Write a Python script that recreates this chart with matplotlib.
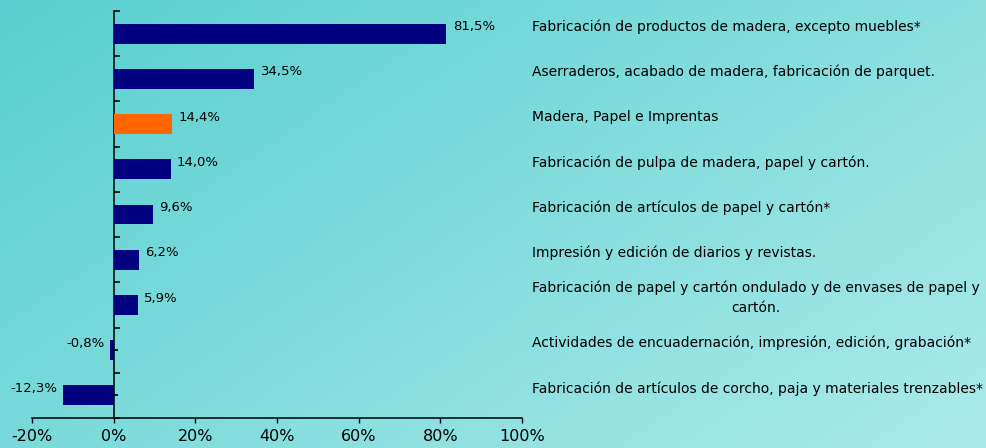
import numpy as np
import matplotlib.pyplot as plt
import matplotlib.transforms as mtransforms
from matplotlib.ticker import FuncFormatter

categories = [
    "Fabricación de productos de madera, excepto muebles*",
    "Aserraderos, acabado de madera, fabricación de parquet.",
    "Madera, Papel e Imprentas",
    "Fabricación de pulpa de madera, papel y cartón.",
    "Fabricación de artículos de papel y cartón*",
    "Impresión y edición de diarios y revistas.",
    "Fabricación de papel y cartón ondulado y de envases de papel y\ncartón.",
    "Actividades de encuadernación, impresión, edición, grabación*",
    "Fabricación de artículos de corcho, paja y materiales trenzables*",
]
values = [81.5, 34.5, 14.4, 14.0, 9.6, 6.2, 5.9, -0.8, -12.3]
highlight = 2  # the sector total

navy = "#000080"
orange = "#FF6600"

fig = plt.figure(figsize=(9.87, 4.48), dpi=100)

# background gradient
bg = fig.add_axes([0, 0, 1, 1], zorder=-1)
h, w = 448, 987
u = np.linspace(0, 1, w)[None, :]
v = np.linspace(0, 1, h)[:, None]
t = 0.6 * u + 0.4 * v
tl = np.array([88, 207, 208]) / 255
br = np.array([172, 234, 234]) / 255
img = tl[None, None, :] + (br - tl)[None, None, :] * t[:, :, None]
bg.imshow(img, aspect="auto", extent=[0, 1, 0, 1])
bg.axis("off")

ax = fig.add_axes([31.9 / 987, 1 - 418 / 448, (522 - 31.9) / 987, (418 - 11) / 448])
ax.set_facecolor("none")

y = np.arange(len(values))
colors = [orange if i == highlight else navy for i in range(len(values))]
ax.barh(y, values, height=0.44, color=colors, zorder=3)

ax.set_xlim(-20, 100)
ax.set_ylim(len(values) - 0.5, -0.5)
ax.set_xticks(np.arange(-20, 101, 20))
ax.xaxis.set_major_formatter(FuncFormatter(lambda x, p: f"{x:.0f}%"))
ax.tick_params(axis="x", direction="out", length=3.6, width=1, pad=4, labelsize=11.5)
ax.set_yticks(np.arange(-0.5, len(values), 1))
ax.set_yticks(y, minor=True)
ax.tick_params(axis="y", which="major", direction="in", length=4.3, width=1.2, labelleft=False)
ax.tick_params(axis="y", which="minor", direction="in", length=3, width=1.2, labelleft=False)
ax.spines["left"].set_position(("data", 0))
for s in ["top", "right"]:
    ax.spines[s].set_visible(False)
for s in ["left", "bottom"]:
    ax.spines[s].set_linewidth(1.1)

# value labels
for i, val in enumerate(values):
    txt = f"{val:.1f}%".replace(".", ",")
    if val >= 0:
        ax.annotate(txt, xy=(val, i), xytext=(4.5, 5), textcoords="offset points",
                    ha="left", va="center", fontsize=9.5, zorder=4)
    else:
        ax.annotate(txt, xy=(val, i), xytext=(-4, 5), textcoords="offset points",
                    ha="right", va="center", fontsize=9.5, zorder=4)

# category labels on the right
trans = mtransforms.blended_transform_factory(fig.transFigure, ax.transData)
for i, cat in enumerate(categories):
    ax.annotate(cat, xy=(532 / 987, i), xycoords=trans, xytext=(0, 5),
                textcoords="offset points", ha="left", va="center",
                multialignment="center", linespacing=1.55, fontsize=10,
                annotation_clip=False)

fig.savefig("out.png", dpi=100)
